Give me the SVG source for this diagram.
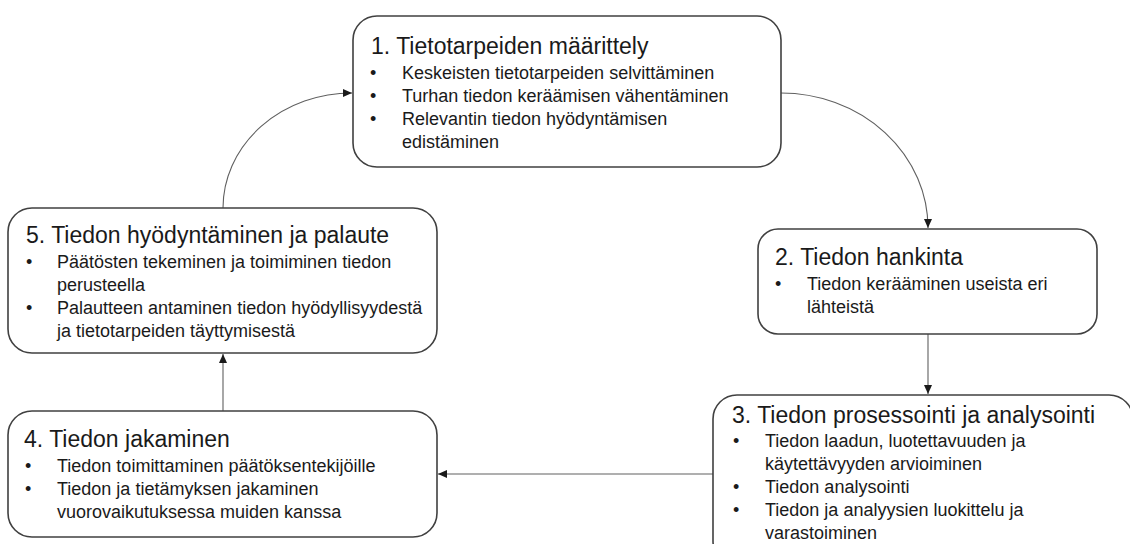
<svg xmlns="http://www.w3.org/2000/svg" width="1130" height="544" viewBox="0 0 1130 544">
<style>
.box{fill:#fff;stroke:#404040;stroke-width:1.6}
.t{font-family:"Liberation Sans",Arial,sans-serif;font-size:23px;fill:#1a1a1a}
.b{font-family:"Liberation Sans",Arial,sans-serif;font-size:18px;fill:#1a1a1a}
.c{fill:none;stroke:#606060;stroke-width:1.1}
</style>
<defs>
<marker id="ah" viewBox="0 0 10 10" refX="10" refY="5" markerWidth="9" markerHeight="8" markerUnits="userSpaceOnUse" orient="auto" preserveAspectRatio="none">
<path d="M0,0 L10,5 L0,10 z" fill="#1a1a1a"/>
</marker>
</defs>
<rect width="1130" height="544" fill="#fff"/>
<g id="connectors">
<path class="c" d="M781,93 A147,135 0 0 1 928,228" marker-end="url(#ah)"/>
<path class="c" d="M928,334 L928,394" marker-end="url(#ah)"/>
<path class="c" d="M713,474 L438,474" marker-end="url(#ah)"/>
<path class="c" d="M223,411 L223,354" marker-end="url(#ah)"/>
<path class="c" d="M223,208 A129,115 0 0 1 352,93" marker-end="url(#ah)"/>
</g>
<g id="node1">
<rect class="box" x="353" y="16" width="428" height="151" rx="24"/>
<text class="t" x="371" y="54">1. Tietotarpeiden määrittely</text>
<text class="b" x="370" y="79">•</text><text class="b" x="402" y="79">Keskeisten tietotarpeiden selvittäminen</text>
<text class="b" x="370" y="102">•</text><text class="b" x="402" y="102">Turhan tiedon keräämisen vähentäminen</text>
<text class="b" x="370" y="125">•</text><text class="b" x="402" y="125">Relevantin tiedon hyödyntämisen</text>
<text class="b" x="402" y="148">edistäminen</text>
</g>
<g id="node2">
<rect class="box" x="758" y="229" width="339" height="105" rx="20"/>
<text class="t" x="775" y="265">2. Tiedon hankinta</text>
<text class="b" x="775" y="290">•</text><text class="b" x="807" y="290">Tiedon kerääminen useista eri</text>
<text class="b" x="807" y="313">lähteistä</text>
</g>
<g id="node3">
<rect class="box" x="713" y="395" width="420" height="170" rx="24"/>
<text class="t" x="732" y="423">3. Tiedon prosessointi ja analysointi</text>
<text class="b" x="733" y="447">•</text><text class="b" x="765" y="447">Tiedon laadun, luotettavuuden ja</text>
<text class="b" x="765" y="470">käytettävyyden arvioiminen</text>
<text class="b" x="733" y="493">•</text><text class="b" x="765" y="493">Tiedon analysointi</text>
<text class="b" x="733" y="516">•</text><text class="b" x="765" y="516">Tiedon ja analyysien luokittelu ja</text>
<text class="b" x="765" y="539">varastoiminen</text>
</g>
<g id="node4">
<rect class="box" x="8" y="411" width="429" height="126" rx="24"/>
<text class="t" x="24" y="447">4. Tiedon jakaminen</text>
<text class="b" x="25" y="472">•</text><text class="b" x="57" y="472">Tiedon toimittaminen päätöksentekijöille</text>
<text class="b" x="25" y="495">•</text><text class="b" x="57" y="495">Tiedon ja tietämyksen jakaminen</text>
<text class="b" x="57" y="518">vuorovaikutuksessa muiden kanssa</text>
</g>
<g id="node5">
<rect class="box" x="8" y="208" width="429" height="145" rx="24"/>
<text class="t" x="26" y="243">5. Tiedon hyödyntäminen ja palaute</text>
<text class="b" x="26" y="268">•</text><text class="b" x="57" y="268">Päätösten tekeminen ja toimiminen tiedon</text>
<text class="b" x="57" y="291">perusteella</text>
<text class="b" x="26" y="314">•</text><text class="b" x="57" y="314">Palautteen antaminen tiedon hyödyllisyydestä</text>
<text class="b" x="57" y="337">ja tietotarpeiden täyttymisestä</text>
</g>
</svg>
